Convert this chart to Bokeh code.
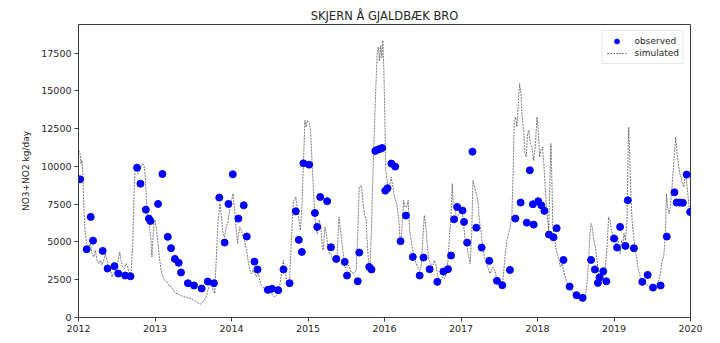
from bokeh.plotting import figure
from bokeh.models import FixedTicker, Range1d, Legend, LegendItem, ColumnDataSource
from bokeh.embed import file_html
from bokeh.resources import INLINE

# Observed loads (decimal year, kg/day)
obs_year = [2012.02, 2012.107, 2012.16, 2012.19, 2012.316, 2012.38, 2012.47, 2012.52, 2012.61, 2012.68,
            2012.765, 2012.81, 2012.88, 2012.92, 2012.94, 2013.04, 2013.097, 2013.167, 2013.21, 2013.26,
            2013.31, 2013.34, 2013.43, 2013.51, 2013.61, 2013.69, 2013.77, 2013.84, 2013.91, 2013.96,
            2014.017, 2014.09, 2014.16, 2014.2, 2014.30, 2014.34, 2014.475, 2014.53, 2014.61, 2014.68,
            2014.76, 2014.84, 2014.88, 2014.92, 2014.94, 2015.015, 2015.09, 2015.12, 2015.16, 2015.25,
            2015.30, 2015.37, 2015.48, 2015.51, 2015.65, 2015.67, 2015.80, 2015.83, 2015.88, 2015.91,
            2015.94, 2015.97, 2016.01, 2016.04, 2016.09, 2016.14, 2016.21, 2016.28, 2016.37, 2016.46,
            2016.51, 2016.59, 2016.69, 2016.77, 2016.83, 2016.87, 2016.91, 2016.95, 2017.02, 2017.04,
            2017.08, 2017.15, 2017.20, 2017.27, 2017.37, 2017.47, 2017.54, 2017.64, 2017.71, 2017.78,
            2017.86, 2017.90, 2017.94, 2017.95, 2018.01, 2018.05, 2018.09, 2018.15, 2018.21, 2018.25,
            2018.34, 2018.42, 2018.51, 2018.59, 2018.70, 2018.75, 2018.79, 2018.81, 2018.86, 2018.90,
            2019.00, 2019.04, 2019.08, 2019.15, 2019.18, 2019.26, 2019.37, 2019.44, 2019.51, 2019.61,
            2019.69, 2019.79, 2019.82, 2019.86, 2019.90, 2019.95, 2019.995]
obs_load = [9150, 4520, 6660, 5090, 4410, 3240, 3400, 2910, 2780, 2730,
            9920, 8860, 7140, 6550, 6390, 7520, 9500, 5340, 4590, 3880,
            3620, 2980, 2270, 2120, 1920, 2380, 2270, 7940, 4960, 7520,
            9480, 6550, 7430, 5360, 3700, 3180, 1830, 1900, 1810, 3180,
            2270, 7030, 5140, 4340, 10210, 10120, 6920, 6000, 7980, 7700,
            4650, 3880, 3680, 2780, 2400, 4300, 3350, 3180, 11030, 11110,
            11160, 11220, 8400, 8560, 10190, 9990, 5050, 6750, 4010, 2780,
            3970, 3200, 2360, 3040, 3200, 4100, 6500, 7320, 7080, 6330,
            4960, 10980, 5950, 4630, 3750, 2430, 2140, 3150, 6550, 7610,
            6280, 9750, 7500, 6150, 7700, 7430, 7060, 5490, 5310, 5910,
            3810, 2050, 1480, 1300, 3810, 3180, 2290, 2650, 3060, 2400,
            5230, 4630, 6000, 4740, 7760, 4590, 2360, 2820, 1980, 2120,
            5360, 8290, 7610, 7610, 7590, 9460, 6990]

# Simulated loads (decimal year, kg/day)
sim_year = [2012.002, 2012.02, 2012.033, 2012.046, 2012.059, 2012.072, 2012.085, 2012.107, 2012.133, 2012.155,
            2012.177, 2012.198, 2012.22, 2012.242, 2012.264, 2012.286, 2012.307, 2012.33, 2012.35, 2012.373,
            2012.395, 2012.416, 2012.438, 2012.46, 2012.48, 2012.503, 2012.52, 2012.539, 2012.556, 2012.578,
            2012.6, 2012.621, 2012.643, 2012.665, 2012.687, 2012.709, 2012.726, 2012.743, 2012.76, 2012.778,
            2012.796, 2012.817, 2012.84, 2012.856, 2012.874, 2012.891, 2012.909, 2012.926, 2012.944, 2012.96,
            2012.974, 2012.99, 2013.0, 2013.02, 2013.04, 2013.057, 2013.079, 2013.1, 2013.127, 2013.153,
            2013.18, 2013.21, 2013.24, 2013.275, 2013.30, 2013.34, 2013.39, 2013.43, 2013.476, 2013.52,
            2013.56, 2013.59, 2013.63, 2013.67, 2013.715, 2013.74, 2013.76, 2013.78, 2013.80, 2013.825,
            2013.85, 2013.868, 2013.89, 2013.91, 2013.93, 2013.95, 2013.977, 2014.0, 2014.02, 2014.04,
            2014.078, 2014.108, 2014.13, 2014.15, 2014.17, 2014.195, 2014.217, 2014.24, 2014.26, 2014.28,
            2014.305, 2014.327, 2014.35, 2014.37, 2014.39, 2014.41, 2014.435, 2014.478, 2014.52, 2014.566,
            2014.61, 2014.635, 2014.678, 2014.72, 2014.757, 2014.787, 2014.809, 2014.84, 2014.87, 2014.90,
            2014.92, 2014.94, 2014.96, 2014.975, 2014.99, 2015.017, 2015.034, 2015.056, 2015.078, 2015.10,
            2015.12, 2015.147, 2015.17, 2015.186, 2015.20, 2015.22, 2015.24, 2015.26, 2015.28, 2015.30,
            2015.32, 2015.357, 2015.38, 2015.39, 2015.405, 2015.42, 2015.44, 2015.46, 2015.48, 2015.50,
            2015.53, 2015.566, 2015.60, 2015.63, 2015.65, 2015.67, 2015.70, 2015.72, 2015.74, 2015.76,
            2015.77, 2015.79, 2015.81, 2015.83, 2015.85, 2015.87, 2015.887, 2015.904, 2015.92, 2015.935,
            2015.95, 2015.965, 2015.978, 2015.992, 2016.005, 2016.018, 2016.04, 2016.06, 2016.088, 2016.11,
            2016.13, 2016.16, 2016.188, 2016.205, 2016.22, 2016.25, 2016.27, 2016.29, 2016.31, 2016.33,
            2016.36, 2016.38, 2016.40, 2016.43, 2016.46, 2016.48, 2016.50, 2016.52, 2016.54, 2016.562,
            2016.58, 2016.60, 2016.63, 2016.65, 2016.67, 2016.69, 2016.715, 2016.74, 2016.76, 2016.785,
            2016.807, 2016.83, 2016.85, 2016.87, 2016.886, 2016.90, 2016.925, 2016.946, 2016.97, 2016.99,
            2017.01, 2017.03, 2017.05, 2017.08, 2017.10, 2017.12, 2017.14, 2017.156, 2017.178, 2017.20,
            2017.22, 2017.24, 2017.265, 2017.296, 2017.318, 2017.348, 2017.38, 2017.417, 2017.443, 2017.47,
            2017.496, 2017.52, 2017.548, 2017.58, 2017.60, 2017.62, 2017.644, 2017.666, 2017.68, 2017.696,
            2017.714, 2017.73, 2017.748, 2017.766, 2017.783, 2017.80, 2017.818, 2017.836, 2017.853, 2017.87,
            2017.888, 2017.905, 2017.927, 2017.949, 2017.971, 2017.993, 2018.01, 2018.028, 2018.045, 2018.063,
            2018.08, 2018.10, 2018.124, 2018.146, 2018.16, 2018.176, 2018.19, 2018.20, 2018.22, 2018.246,
            2018.27, 2018.298, 2018.32, 2018.35, 2018.376, 2018.407, 2018.437, 2018.47, 2018.507, 2018.54,
            2018.58, 2018.625, 2018.647, 2018.669, 2018.686, 2018.70, 2018.716, 2018.73, 2018.756, 2018.778,
            2018.80, 2018.82, 2018.843, 2018.865, 2018.887, 2018.909, 2018.93, 2018.948, 2018.966, 2018.98,
            2019.0, 2019.026, 2019.05, 2019.06, 2019.08, 2019.10, 2019.114, 2019.13, 2019.15, 2019.17,
            2019.18, 2019.192, 2019.205, 2019.22, 2019.236, 2019.258, 2019.28, 2019.30, 2019.32, 2019.345,
            2019.375, 2019.41, 2019.44, 2019.48, 2019.516, 2019.55, 2019.585, 2019.607, 2019.63, 2019.65,
            2019.672, 2019.685, 2019.70, 2019.72, 2019.737, 2019.755, 2019.77, 2019.79, 2019.807, 2019.825,
            2019.842, 2019.86, 2019.877, 2019.895, 2019.912, 2019.93, 2019.947, 2019.965, 2019.982, 2020.0]
sim_load = [11070, 10850, 10190, 10410, 9300, 7100, 5770, 4890, 4670, 4890,
            4230, 4010, 4450, 3790, 3570, 3790, 3460, 3790, 4230, 3790,
            3350, 3130, 2690, 2910, 3130, 3350, 3790, 4340, 3790, 3350,
            3240, 3570, 3350, 2910, 2910, 4890, 8200, 9960, 10190, 9520,
            9740, 9960, 10190, 10080, 9300, 7540, 6660, 6000, 5330, 4010,
            5330, 6440, 6440, 5770, 4890, 4010, 3130, 2690, 2470, 2360,
            2140, 2030, 1810, 1590, 1590, 1450, 1370, 1300, 1260, 1100,
            970, 880, 1040, 1370, 2250, 2470, 1810, 1590, 3790, 6440,
            7540, 6660, 5550, 5330, 6000, 6220, 7100, 7760, 8200, 7100,
            4890, 6000, 5770, 5330, 5110, 4450, 3790, 3130, 2910, 3130,
            2910, 2690, 2910, 2470, 2140, 2030, 1810, 1700, 1590, 1370,
            1590, 2250, 3790, 2470, 2250, 5560, 7650, 7980, 6880, 5770,
            7320, 10190, 13050, 12600, 13050, 12830, 12390, 9960, 7760, 5990,
            5560, 6440, 5990, 4670, 4450, 5990, 5560, 4670, 4230, 4230,
            3790, 4010, 3790, 5110, 6650, 5990, 5110, 4230, 3350, 3240,
            3460, 3020, 2910, 3130, 5560, 8640, 8750, 7540, 6880, 6440,
            5330, 3790, 3240, 5990, 9740, 12830, 15250, 17460, 17900, 17000,
            18000, 17200, 18340, 16360, 13050, 9740, 8860, 8640, 9300, 8640,
            7980, 7540, 6440, 5110, 5110, 7760, 7320, 7320, 7760, 5770,
            4670, 4230, 3790, 3350, 3130, 3350, 5110, 6770, 5990, 4670,
            3790, 3570, 3350, 3790, 3570, 2910, 2470, 2470, 2690, 2580,
            2910, 3790, 5330, 6880, 8860, 7320, 7100, 6440, 6880, 7100,
            7320, 6440, 5330, 4670, 4010, 3570, 5560, 9080, 8640, 8200,
            7760, 6440, 5560, 4230, 3790, 3350, 2910, 3350, 3130, 2470,
            2360, 2250, 2470, 4230, 5110, 5560, 5990, 6880, 9300, 13050,
            13270, 12610, 14150, 15480, 14810, 13270, 12390, 10850, 10630, 12170,
            12390, 11510, 11290, 10410, 11290, 13270, 12390, 10630, 11070, 11290,
            10410, 8640, 6880, 5770, 8640, 11510, 8640, 5990, 5330, 4450,
            4010, 3350, 3570, 2910, 2470, 2030, 1810, 1590, 1370, 1260,
            1150, 1360, 2250, 3790, 5560, 6220, 5990, 5330, 4670, 3790,
            2910, 2580, 2470, 2690, 3350, 4670, 6660, 6440, 5770, 5560,
            5110, 4890, 5330, 4450, 4230, 5110, 4670, 5560, 5110, 6440,
            9740, 12610, 10850, 8200, 6440, 5330, 4450, 3790, 3130, 2690,
            2470, 2250, 2140, 2030, 2030, 2140, 2470, 2910, 3790, 4010,
            5560, 8200, 7320, 6880, 7320, 8420, 9520, 10850, 11950, 10850,
            10190, 9520, 9300, 8860, 8640, 9520, 9080, 8200, 7320, 6880]

year_ticks = [2012, 2013, 2014, 2015, 2016, 2017, 2018, 2019, 2020]
load_ticks = [0, 2500, 5000, 7500, 10000, 12500, 15000, 17500]

FONT = "DejaVu Sans"
TEXT = "#262626"
SPINE = "#3a3a3a"

p = figure(width=720, height=343, output_backend="svg", toolbar_location=None,
           x_range=Range1d(2012, 2020), y_range=Range1d(0, 19400),
           min_border_left=78, min_border_right=30, min_border_top=24, min_border_bottom=26,
           title="SKJERN Å GJALDBÆK BRO")
p.title.align = "center"
p.title.text_font = FONT
p.title.text_font_size = "11.5px"
p.title.text_font_style = "normal"
p.title.text_color = TEXT
p.title.standoff = 4

p.xgrid.visible = False
p.ygrid.visible = False
p.outline_line_color = SPINE
p.outline_line_width = 1
p.background_fill_color = "white"
p.border_fill_color = "white"

p.xaxis.ticker = FixedTicker(ticks=year_ticks)
p.yaxis.ticker = FixedTicker(ticks=load_ticks)
p.yaxis.axis_label = "NO3+NO2 kg/day"
p.yaxis.axis_label_text_font_style = "normal"
p.yaxis.axis_label_standoff = 7
for ax in (p.xaxis[0], p.yaxis[0]):
    ax.major_label_text_font = FONT
    ax.major_label_text_font_size = "9.5px"
    ax.major_label_text_color = TEXT
    ax.axis_label_text_font = FONT
    ax.axis_label_text_font_size = "9px"
    ax.axis_label_text_color = TEXT
    ax.axis_line_color = SPINE
    ax.major_tick_line_color = SPINE
    ax.major_tick_out = 4
    ax.major_tick_in = 0
    ax.minor_tick_line_color = None
    ax.major_label_standoff = 3

sim_src = ColumnDataSource(dict(x=sim_year, y=sim_load))
obs_src = ColumnDataSource(dict(x=obs_year, y=obs_load))

sim = p.line("x", "y", source=sim_src, line_color="#222222", line_width=0.7,
             line_dash="2 1", line_alpha=0.85)
obs = p.scatter("x", "y", source=obs_src, size=7, fill_color="#0000ff",
                line_color="#0000ff")

legend = Legend(items=[LegendItem(label="observed", renderers=[obs]),
                       LegendItem(label="simulated", renderers=[sim])],
                location="top_right")
legend.label_text_font = FONT
legend.label_text_font_size = "9px"
legend.label_text_color = TEXT
legend.border_line_color = "#d0d0d0"
legend.border_line_width = 1
legend.margin = 6
legend.padding = 4
legend.spacing = 0
legend.glyph_width = 20
legend.glyph_height = 12
legend.label_height = 12
legend.label_standoff = 8
p.add_layout(legend)

open("out.html", "w").write(file_html(p, INLINE))
